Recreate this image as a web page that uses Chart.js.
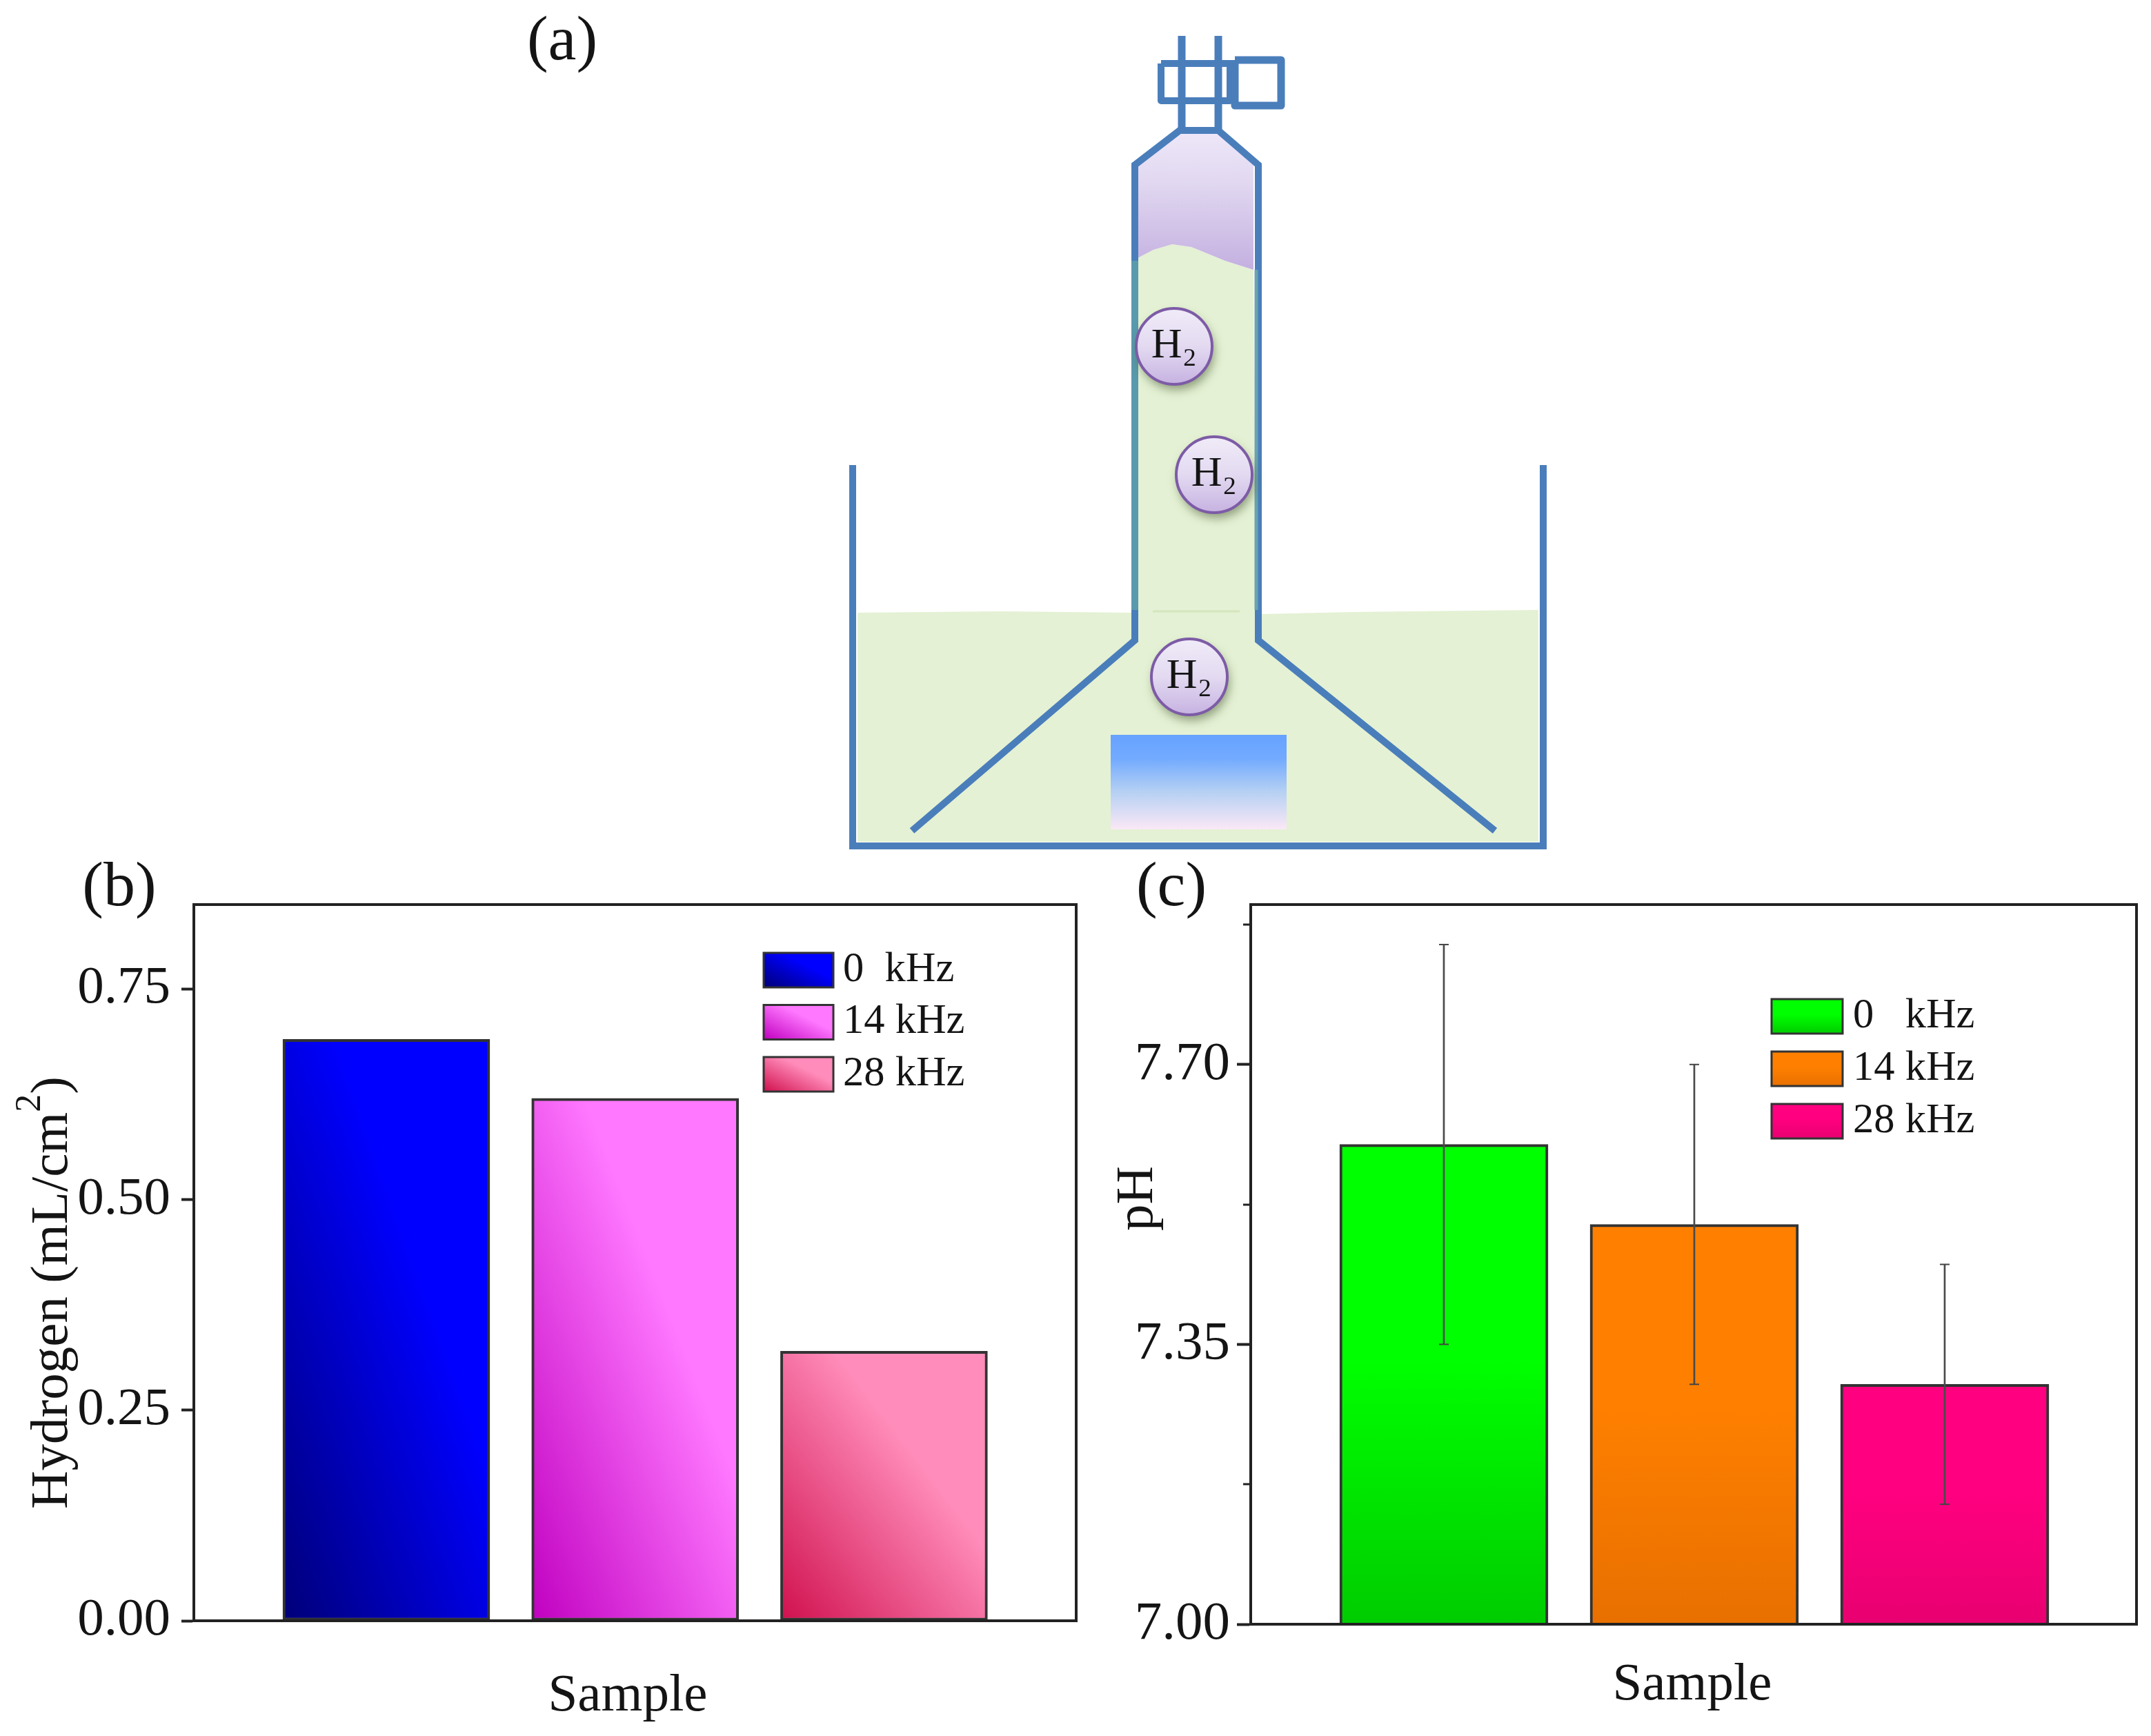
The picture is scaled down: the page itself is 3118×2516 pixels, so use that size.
<!DOCTYPE html>
<html><head><meta charset="utf-8">
<style>
html,body{margin:0;padding:0;background:#fff;width:3118px;height:2516px;overflow:hidden}
canvas{position:absolute;display:block}
</style>
<script src="https://cdn.jsdelivr.net/npm/chart.js@4"></script>
</head><body>
<canvas id="a" width="3118" height="1240" style="left:0;top:0"></canvas>
<canvas id="b" width="1600" height="1276" style="left:0;top:1240px"></canvas>
<canvas id="c" width="1518" height="1276" style="left:1600px;top:1240px"></canvas>
<script>
// ---------- data ----------
const categories = ['0 kHz','14 kHz','28 kHz'];
const samplePositions = [1,2,3];
const hydrogen = [0.69,0.62,0.32];
const hydrogenTicks = [0,0.25,0.5,0.75];
const pH = [7.6,7.5,7.3];
const pHLow = [7.35,7.3,7.15];
const pHHigh = [7.85,7.7,7.45];
const pHTicks = [7,7.35,7.7];
const pHMinorTicks = [7.175,7.525,7.875];
const legendLabelsB = ['0  kHz','14 kHz','28 kHz'];
const legendLabelsC = ['0   kHz','14 kHz','28 kHz'];
const coloursB = [['#000078','#0000ff'],['#c000c0','#ff78ff'],['#d0104e','#ff8cba']];
const coloursC = [['#00cc00','#00ff00'],['#e87000','#ff8000'],['#e80070','#ff0080']];

// schematic (a) outline and regions, in the schematic's own units
const tankWall = [[1236,674],[1236,1226],[2237,1226],[2237,674]];
const gasTube = [[1322,1204],[1645,928],[1645,239],[1710,189],[1766,189],[1824,239],[1824,928],[2167,1204]];
const tubeTintL = [[1645,378],[1645,884]];
const tubeTintR = [[1821,391],[1821,884]];
const valveStemL = [[1713,52],[1713,189]];
const valveStemR = [[1766,52],[1766,189]];
const valveBoxA = [[1683,92],[1783,92],[1783,146],[1683,146],[1683,92]];
const valveBoxB = [[1790,87],[1857,87],[1857,153],[1790,153],[1790,87]];
const waterRegion = [[1243,888],[1450,886],[1640,888],[1830,890],[1960,887],[2230,884],[2230,1220],[1243,1220]];
const columnRegion = [[1649,374],[1672,362],[1699,354],[1727,358],[1776,378],[1817,391],[1820,900],[1649,900]];
const gasRegion = [[1649,239],[1710,191],[1766,191],[1817,239],[1817,391],[1776,378],[1727,358],[1699,354],[1672,362],[1649,374]];
const plateRegion = [[1610,1065],[1865,1065],[1865,1202],[1610,1202]];
const faintLine = [[1671,886],[1797,886]];
const bubbles = [[1702,502],[1760,688],[1724,981]];
const bubbleLabel = 'H\u2082';

const SERIF = '"Liberation Serif"';
const INK = '#222';
const BLUE = '#4a7ebb';

function diagGradient(ctx,x0,y0,x1,y1,dark,bright){
  const w=x1-x0,h=y1-y0,D=w*w+h*h,k=2*w*h/D;
  const g=ctx.createLinearGradient(x0,y1,x0+h*k,y1-w*k);
  g.addColorStop(0,dark);g.addColorStop(0.63,bright);g.addColorStop(1,bright);
  return g;
}
function vertGradient(ctx,x0,y0,x1,y1,dark,bright){
  const g=ctx.createLinearGradient(0,y1,0,y0);
  g.addColorStop(0,dark);g.addColorStop(0.55,bright);g.addColorStop(1,bright);
  return g;
}
function text(ctx,s,x,y,font,rot,align,base){
  ctx.save();ctx.translate(x,y);if(rot)ctx.rotate(rot);
  ctx.font=font;ctx.fillStyle='#141414';ctx.textAlign=align||'center';ctx.textBaseline=base||'middle';
  ctx.fillText(s,0,0);ctx.restore();
}

function panelPlugin(o){return {id:'panel',
  afterDatasetsDraw(chart){
    const c=chart.ctx,a=chart.chartArea;
    c.save();c.strokeStyle=INK;c.lineWidth=4;
    c.strokeRect(a.left,a.top,a.right-a.left,a.bottom-a.top);
    (o.minor||[]).forEach(v=>{
      const y=Math.round(chart.scales.y.getPixelForValue(v));
      c.beginPath();c.moveTo(a.left-11,y);c.lineTo(a.left,y);c.lineWidth=3;c.stroke();
    });
    c.restore();
    o.legend.labels.forEach((lab,i)=>{
      const x0=o.legend.x,y0=o.legend.y+i*o.legend.step,x1=x0+o.legend.w,y1=y0+o.legend.h;
      c.save();
      c.fillStyle=o.grad(c,x0,y0,x1,y1,o.colours[i][0],o.colours[i][1]);
      c.fillRect(x0,y0,o.legend.w,o.legend.h);
      c.strokeStyle='#333';c.lineWidth=3;c.strokeRect(x0,y0,o.legend.w,o.legend.h);
      c.restore();
      text(c,lab,o.legend.tx,(y0+y1)/2+o.legend.dy,'60.5px '+SERIF,0,'left');
    });
    o.texts.forEach(t=>text(c,t[0],t[1],t[2],t[3]+'px '+SERIF,t[4]||0));
    if(o.after) o.after(c);
  }};
}

function barFill(colours,grad,values,bw){
  return ctx=>{
    const ch=ctx.chart,i=ctx.dataIndex;
    if(!ch.chartArea||i===undefined) return colours[0][1];
    const xc=ch.scales.x.getPixelForValue(samplePositions[i]);
    const y0=ch.scales.y.getPixelForValue(values[i]);
    const y1=ch.scales.y.getPixelForValue(ch.scales.y.min);
    if(![xc,y0,y1].every(Number.isFinite)) return colours[i][1];
    return grad(ch.ctx,xc-bw/2,y0,xc+bw/2,y1,colours[i][0],colours[i][1]);
  };
}

function axes(xMin,xMax,yMin,yMax,yTicks,leftW,botH,fontSize,pad,tickLen){
  return {
    x:{type:'linear',min:xMin,max:xMax,offset:false,
       grid:{display:false,offset:false},
       border:{display:true,color:INK,width:4},
       ticks:{display:false},
       afterFit(s){s.height=botH;}},
    y:{type:'linear',min:yMin,max:yMax,
       grid:{drawOnChartArea:false,drawTicks:true,tickLength:tickLen,tickWidth:4,tickColor:INK},
       border:{display:true,color:INK,width:4},
       ticks:{font:{family:'Liberation Serif',size:fontSize},color:'#141414',padding:pad,
              callback:v=>v.toFixed(2),autoSkip:false,maxRotation:0},
       afterBuildTicks(s){s.ticks=yTicks.map(v=>({value:v}));},
       afterFit(s){s.width=leftW;}}
  };
}
const baseOpts={responsive:false,animation:false,devicePixelRatio:1,
  plugins:{legend:{display:false},tooltip:{enabled:false},title:{display:false}}};

// ---------- (b) ----------
const BW_B=300;
function hydrogenTitle(c){
  // rotated label with a properly raised exponent
  const start=947,main='77px '+SERIF,sup='52px '+SERIF,head='Hydrogen (mL/cm',tail=')';
  c.save();c.font=main;const w1=c.measureText(head).width;c.font=sup;const w2=c.measureText('2').width;c.restore();
  text(c,head,97,start,main,-Math.PI/2,'left','alphabetic');
  text(c,'2',58,start-w1,sup,-Math.PI/2,'left','alphabetic');
  text(c,tail,97,start-w1-w2,main,-Math.PI/2,'left','alphabetic');
}
new Chart(document.getElementById('b'),{
  type:'bar',
  data:{labels:categories,datasets:[{
    label:'Hydrogen',
    data:samplePositions.map((x,i)=>({x,y:hydrogen[i]})),
    backgroundColor:barFill(coloursB,diagGradient,hydrogen,BW_B),
    borderColor:'#333',borderWidth:4,borderSkipped:false,barThickness:BW_B
  }]},
  options:{...baseOpts,
    layout:{autoPadding:false,padding:{left:0,right:40,top:71,bottom:0}},
    scales:axes(0.2265,3.7724,0,0.85,hydrogenTicks,281,167,77,16,18)},
  plugins:[panelPlugin({
    grad:diagGradient,colours:coloursB,
    legend:{labels:legendLabelsB,x:1107,y:141,step:75.5,w:101,h:50,tx:1222,dy:0},
    texts:[['(b)',173,48,92],['Sample',910,1219,77]],
    after:hydrogenTitle
  })]
});

// ---------- (c) ----------
const BW_C=302;
new Chart(document.getElementById('c'),{
  data:{labels:categories,datasets:[
    {type:'scatter',label:'pH error caps',order:1,
     data:samplePositions.flatMap((x,i)=>[{x,y:pHLow[i]},{x,y:pHHigh[i]}]),
     pointStyle:'line',pointRadius:7,pointBorderColor:'#444',pointBorderWidth:2,showLine:false},
    {type:'bar',label:'pH error',order:2,grouped:false,
     data:samplePositions.map((x,i)=>({x,y:[pHLow[i],pHHigh[i]]})),
     backgroundColor:'#4a4a4a',borderWidth:0,barThickness:2},
    {type:'bar',label:'pH',order:3,grouped:false,
     data:samplePositions.map((x,i)=>({x,y:pH[i]})),
     backgroundColor:barFill(coloursC,vertGradient,pH,BW_C),
     borderColor:'#333',borderWidth:4,borderSkipped:false,barThickness:BW_C}
  ]},
  options:{...baseOpts,
    layout:{autoPadding:false,padding:{left:0,right:21,top:71,bottom:0}},
    scales:axes(0.2287,3.766,7,7.9,pHTicks,213,162,79,10,20)},
  plugins:[panelPlugin({
    grad:vertGradient,colours:coloursC,minor:pHMinorTicks,
    legend:{labels:legendLabelsC,x:968,y:208,step:76,w:103,h:50,tx:1086,dy:0},
    texts:[['(c)',98,48,92],['pH',50,497,77,-Math.PI/2],['Sample',853,1203,77]]
  })]
});

// ---------- (a) schematic ----------
const pts=a=>a.map(p=>({x:p[0],y:p[1]}));
const wall=(d,w,col,join)=>({type:'line',data:pts(d),borderColor:col||BLUE,borderWidth:w||10,pointRadius:0,tension:0,
  borderCapStyle:'butt',borderJoinStyle:join||'miter',fill:false,order:2});
function regionPath(ch,c,arr){
  const X=ch.scales.x,Y=ch.scales.y;
  c.beginPath();
  arr.forEach((p,i)=>{const px=X.getPixelForValue(p[0]),py=Y.getPixelForValue(p[1]);i?c.lineTo(px,py):c.moveTo(px,py);});
  c.closePath();
}
const schematic={id:'schematic',
  beforeDatasetsDraw(ch){
    const c=ch.ctx;c.save();
    const X=ch.scales.x,Y=ch.scales.y;
    regionPath(ch,c,waterRegion);c.fillStyle='#e4f1d4';c.fill();
    regionPath(ch,c,columnRegion);c.fillStyle='#e4f1d4';c.fill();
    regionPath(ch,c,gasRegion);
    let g=c.createLinearGradient(0,Y.getPixelForValue(190),0,Y.getPixelForValue(390));
    g.addColorStop(0,'#eee7f8');g.addColorStop(0.35,'#e2d9f1');g.addColorStop(1,'#c4b0e0');
    c.fillStyle=g;c.fill();
    regionPath(ch,c,plateRegion);
    g=c.createLinearGradient(0,Y.getPixelForValue(1065),0,Y.getPixelForValue(1202));
    g.addColorStop(0,'#66a3ff');g.addColorStop(0.25,'#72aaff');g.addColorStop(0.6,'#b5d0f3');g.addColorStop(1,'#fbe8f6');
    c.fillStyle=g;c.fill();
    c.restore();
  },
  afterDatasetsDraw(ch){
    const c=ch.ctx,X=ch.scales.x,Y=ch.scales.y;
    bubbles.forEach(p=>{
      text(c,bubbleLabel,X.getPixelForValue(p[0]),Y.getPixelForValue(p[1]),'62px '+SERIF);
    });
    text(c,'(a)',815,62,'92px '+SERIF);
  },
  beforeDatasetDraw(ch,args){
    if(args.index!==0) return;
    // soft drop shadow under the H2 bubbles
    const c=ch.ctx,X=ch.scales.x,Y=ch.scales.y;
    c.save();
    c.shadowColor='rgba(70,90,50,0.55)';c.shadowBlur=14;c.shadowOffsetX=3;c.shadowOffsetY=8;
    c.fillStyle='#cdbfe4';
    bubbles.forEach(p=>{c.beginPath();c.arc(X.getPixelForValue(p[0]),Y.getPixelForValue(p[1]),55,0,Math.PI*2);c.fill();});
    c.restore();
  }
};
new Chart(document.getElementById('a'),{
  data:{datasets:[
    {type:'scatter',label:'H2 bubbles',order:1,data:pts(bubbles),pointRadius:55,pointStyle:'circle',
     pointBorderColor:'#7d5ba6',pointBorderWidth:4,
     pointBackgroundColor:ctx=>{
       const ch=ctx.chart;if(!ctx.raw) return '#ddd';
       const y=ch.scales.y.getPixelForValue(ctx.raw.y);
       if(!Number.isFinite(y)) return '#ddd';
       const g=ch.ctx.createLinearGradient(0,y-55,0,y+55);
       g.addColorStop(0,'#f0ebf8');g.addColorStop(0.5,'#e3daf1');g.addColorStop(1,'#c6b2e1');
       return g;
     }},
    wall(tubeTintL,10,'#5a9aac'),wall(tubeTintR,5,'#6aa3ae'),
    wall(tankWall),wall(gasTube),wall(valveStemL,11),wall(valveStemR,11),
    wall(valveBoxA,10,BLUE,'round'),wall(valveBoxB,11,BLUE,'round'),
    {type:'line',data:pts(faintLine),borderColor:'#d3e6bd',borderWidth:3,pointRadius:0,fill:false,order:3}
  ]},
  options:{...baseOpts,
    layout:{autoPadding:false,padding:0},
    scales:{
      x:{type:'linear',min:0,max:3118,display:false},
      y:{type:'linear',min:0,max:1240,reverse:true,display:false}
    }},
  plugins:[schematic]
});
</script>
</body></html>
